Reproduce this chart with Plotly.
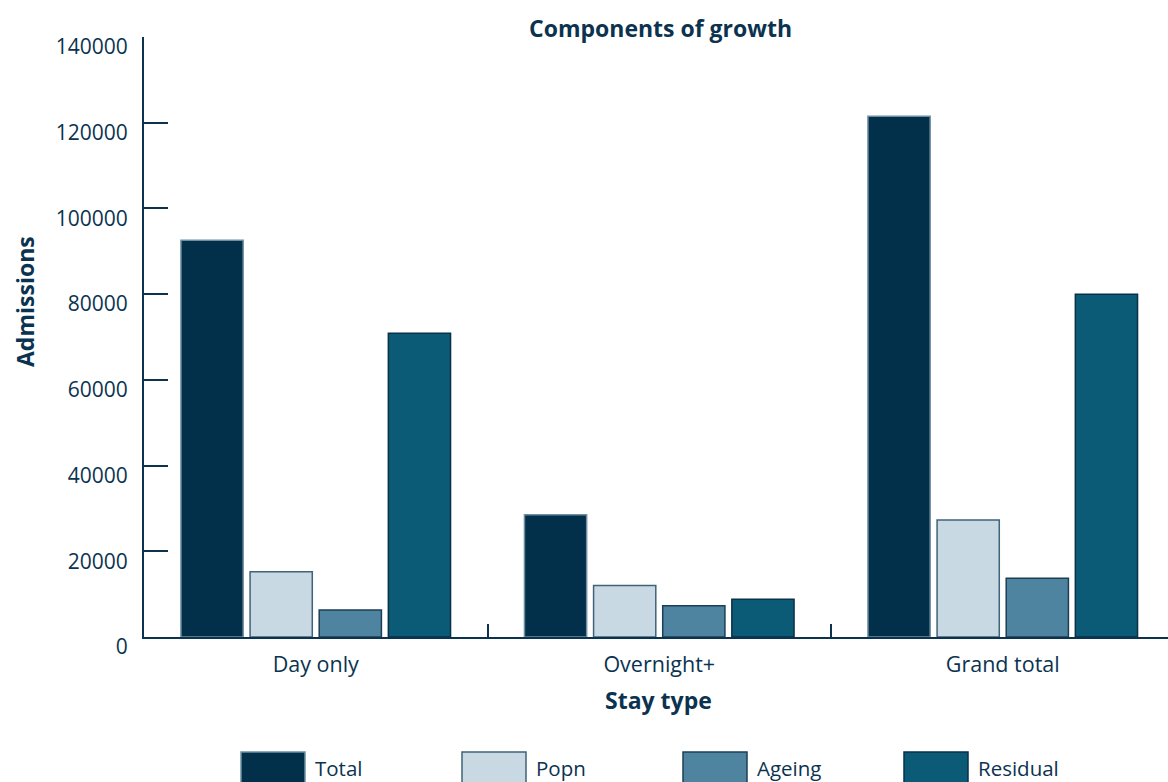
import plotly.graph_objects as go

# Admissions growth broken down by stay type
stay_types = ["Day only", "Overnight+", "Grand total"]
series_names = ["Total", "Popn", "Ageing", "Residual"]
total = [92600, 28500, 121500]
popn = [15200, 12000, 27300]
ageing = [6300, 7300, 13700]
residual = [70900, 8800, 80000]
y_ticks = [0, 20000, 40000, 60000, 80000, 100000, 120000, 140000]

series_values = [total, popn, ageing, residual]
fill_colors = ["#02304A", "#C9D9E3", "#4E849F", "#0B5A76"]
edge_colors = ["#6f8ea1", "#3f6479", "#1d3f55", "#0a3148"]
ink = "#0B3350"
font_family = "'Open Sans', Lato, sans-serif"

W, H = 1168, 782
ML, MR, MT, MB = 144, 0, 37, 145
plot_w = W - ML - MR
cat_px = 343.5

fig = go.Figure()
for name, vals, fc, ec in zip(series_names, series_values, fill_colors, edge_colors):
    fig.add_trace(go.Bar(
        x=stay_types, y=vals, name=name,
        marker=dict(color=fc, line=dict(color=ec, width=1.5)),
        showlegend=False,
    ))

fig.update_layout(
    width=W, height=H,
    margin=dict(l=ML, r=MR, t=MT, b=MB, autoexpand=False),
    paper_bgcolor="white", plot_bgcolor="white",
    barmode="group", bargap=0.195, bargroupgap=0.10,
    font=dict(family=font_family, color=ink, size=21),
)

fig.update_xaxes(
    range=[-0.5, -0.5 + plot_w / cat_px],
    showgrid=False, zeroline=False,
    showline=True, linecolor=ink, linewidth=2,
    ticks="inside", tickson="boundaries", ticklen=13, tickwidth=2, tickcolor=ink,
    tickfont=dict(size=21.5, color=ink, family=font_family),
    ticklabelstandoff=7,
)
fig.update_yaxes(
    range=[0, 140000],
    tickvals=y_ticks, ticktext=[str(v) for v in y_ticks],
    showgrid=False, zeroline=False,
    showline=True, linecolor=ink, linewidth=2,
    ticks="inside", ticklen=24, tickwidth=2, tickcolor=ink,
    tickfont=dict(size=21, color=ink, family=font_family),
    ticklabelstandoff=10, ticklabelshift=10,
)

def px_x(px):
    return (px - ML) / plot_w

def px_y(py):
    return (H - MB - py) / (H - MT - MB)

annotations = [
    dict(text="<b>Components of growth</b>", x=px_x(660), y=px_y(28),
         font=dict(size=23, color=ink, family=font_family)),
    dict(text="<b>Admissions</b>", x=px_x(25), y=px_y(302), textangle=-90,
         font=dict(size=23, color=ink, family=font_family)),
    dict(text="<b>Stay type</b>", x=px_x(658), y=px_y(700),
         font=dict(size=23, color=ink, family=font_family)),
]

# Legend drawn as large swatches along the bottom
shapes = []
legend_x0 = [241, 462, 683, 904]
for name, fc, ec, x0 in zip(series_names, fill_colors, edge_colors, legend_x0):
    shapes.append(dict(
        type="rect", xref="paper", yref="paper",
        x0=px_x(x0), x1=px_x(x0 + 64), y0=px_y(752), y1=px_y(790),
        fillcolor=fc, line=dict(color=ec, width=1.5), layer="above",
    ))
    annotations.append(dict(
        text=name, x=px_x(x0 + 72), y=px_y(768), xanchor="left",
        font=dict(size=20.5, color=ink, family=font_family),
    ))

for a in annotations:
    a.setdefault("xref", "paper")
    a.setdefault("yref", "paper")
    a.setdefault("showarrow", False)
    a.setdefault("yanchor", "middle")
    a.setdefault("xanchor", "center")

fig.update_layout(annotations=annotations, shapes=shapes)

fig.write_html("out.html")
